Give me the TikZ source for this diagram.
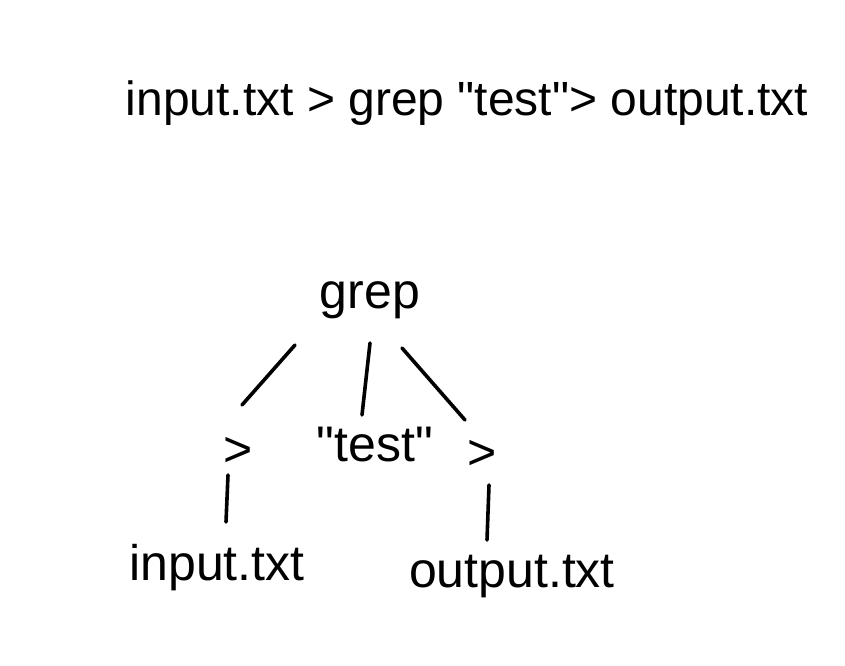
\documentclass[tikz,border=0pt]{standalone}
\usepackage{fontspec}
\setmainfont[Ligatures=TeXReset]{Liberation Sans}
\begin{document}
\begin{tikzpicture}[x=1pt,y=1pt,
  lbl/.style={font=\fontsize{50}{56}\selectfont, inner sep=2pt, text=black},
  toplbl/.style={font=\fontsize{48}{54}\selectfont, inner sep=2pt, text=black},
  edge/.style={line width=3.6pt, line cap=round, black}]
\useasboundingbox (0,0) rectangle (845,665);
\node[toplbl] (cmd) at (467,562) {input.txt > grep "test"> output.txt};
\node[lbl] (grep) at (370,365) {grep};
\node[lbl] (gtl) at (238,213) {>};
\node[lbl] (test) at (375,220) {"test"};
\node[lbl] (gtr) at (482,210) {>};
\node[lbl] (in) at (217,97) {input.txt};
\node[lbl] (out) at (512,88) {output.txt};
\coordinate (a1) at (295,320);
\coordinate (a2) at (242,260);
\coordinate (b1) at (370,322);
\coordinate (b2) at (362,250);
\coordinate (c1) at (402,317);
\coordinate (c2) at (465,245);
\draw[edge] (a1) -- (a2);
\draw[edge] (b1) -- (b2);
\draw[edge] (c1) -- (c2);
\coordinate (d1) at (228,190);
\coordinate (d2) at (226,143);
\coordinate (e1) at (489,180);
\coordinate (e2) at (487,125);
\draw[edge] (d1) -- (d2);
\draw[edge] (e1) -- (e2);
\end{tikzpicture}
\end{document}
